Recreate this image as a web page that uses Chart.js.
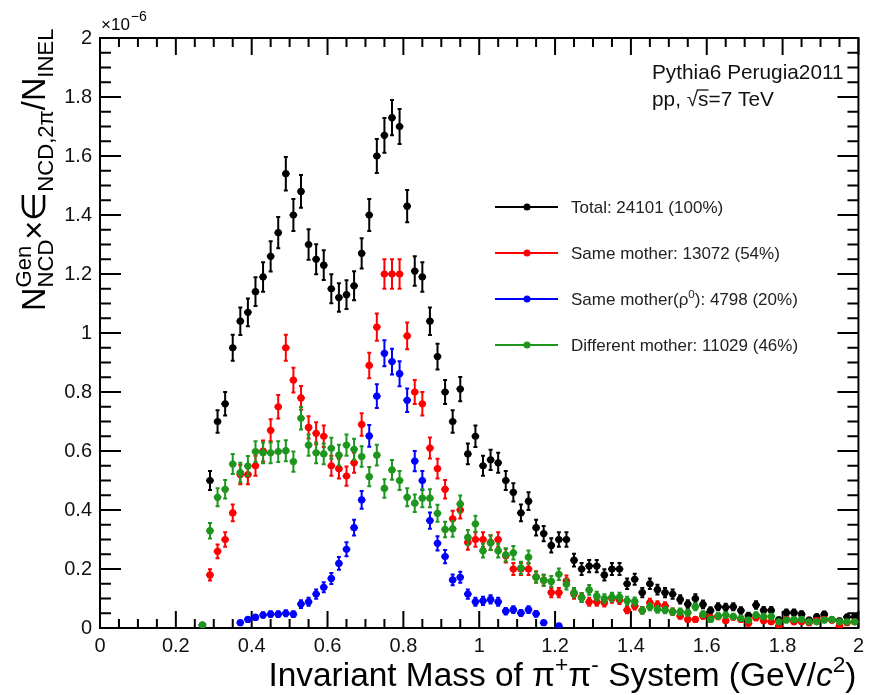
<!DOCTYPE html>
<html>
<head>
<meta charset="utf-8">
<script src="https://cdn.jsdelivr.net/npm/chart.js@4.4.1/dist/chart.umd.min.js"></script>
<style>
    html, body { margin: 0; padding: 0; background: #ffffff; }
    canvas { display: block; }
</style>
</head>
<body>
<canvas id="massPlot" width="870" height="695"></canvas>
<script>
// bin centres in GeV/c^2 (0.02 wide bins)
const mass = [
    0.27, 0.29, 0.31, 0.33, 0.35, 0.37, 0.39, 0.41, 0.43, 0.45,
    0.47, 0.49, 0.51, 0.53, 0.55, 0.57, 0.59, 0.61, 0.63, 0.65,
    0.67, 0.69, 0.71, 0.73, 0.75, 0.77, 0.79, 0.81, 0.83, 0.85,
    0.87, 0.89, 0.91, 0.93, 0.95, 0.97, 0.99, 1.01, 1.03, 1.05,
    1.07, 1.09, 1.11, 1.13, 1.15, 1.17, 1.19, 1.21, 1.23, 1.25,
    1.27, 1.29, 1.31, 1.33, 1.35, 1.37, 1.39, 1.41, 1.43, 1.45,
    1.47, 1.49, 1.51, 1.53, 1.55, 1.57, 1.59, 1.61, 1.63, 1.65,
    1.67, 1.69, 1.71, 1.73, 1.75, 1.77, 1.79, 1.81, 1.83, 1.85,
    1.87, 1.89, 1.91, 1.93, 1.95, 1.97, 1.99
];

// yields in units of 1e-6
const total = [
    0.01, 0.50, 0.70, 0.76, 0.95, 1.04, 1.07, 1.14, 1.19, 1.26,
    1.34, 1.54, 1.40, 1.48, 1.30, 1.25, 1.23, 1.15, 1.12, 1.13,
    1.16, 1.27, 1.40, 1.60, 1.67, 1.73, 1.70, 1.43, 1.21, 1.19,
    1.04, 0.92, 0.80, 0.70, 0.81, 0.59, 0.65, 0.55, 0.57, 0.56,
    0.50, 0.46, 0.39, 0.43, 0.34, 0.32, 0.28, 0.30, 0.30, 0.23,
    0.20, 0.21, 0.21, 0.18, 0.20, 0.20, 0.15, 0.165, 0.12, 0.15,
    0.13, 0.12, 0.115, 0.097, 0.081, 0.10, 0.08, 0.059, 0.072, 0.07,
    0.072, 0.059, 0.042, 0.078, 0.06, 0.06, 0.028, 0.052, 0.052, 0.047,
    0.027, 0.038, 0.046, 0.028, 0.024, 0.037, 0.038
];

const sameMother = [
    null, 0.18, 0.26, 0.30, 0.39, 0.52, 0.52, 0.55, 0.60, 0.67,
    0.75, 0.95, 0.84, 0.78, 0.68, 0.66, 0.65, 0.55, 0.54, 0.515,
    0.56, 0.69, 0.89, 1.02, 1.20, 1.20, 1.20, 0.99, 0.80, 0.76,
    0.61, 0.54, 0.47, 0.37, 0.40, 0.29, 0.30, 0.30, 0.29, 0.30,
    0.245, 0.20, 0.20, 0.20, 0.173, 0.162, 0.12, 0.12, 0.16, 0.115,
    0.104, 0.089, 0.089, 0.086, 0.10, 0.095, 0.061, 0.075, 0.06, 0.086,
    0.078, 0.075, 0.055, 0.041, 0.029, 0.029, 0.041, 0.035, 0.039, 0.025,
    0.037, 0.029, 0.016, 0.035, 0.025, 0.021, 0.007, 0.029, 0.021, 0.021,
    0.018, 0.025, 0.029, 0.027, 0.007, 0.018, 0.021
];

const sameMotherRho = [
    null, null, null, null, null, 0.018, 0.029, 0.036, 0.044, 0.047,
    0.047, 0.05, 0.047, 0.081, 0.089, 0.115, 0.138, 0.168, 0.219, 0.267,
    0.34, 0.434, 0.651, 0.786, 0.931, 0.903, 0.862, 0.772, 0.566, 0.50,
    0.364, 0.287, 0.242, 0.163, 0.172, 0.115, 0.089, 0.092, 0.097, 0.089,
    0.057, 0.062, 0.051, 0.062, 0.048, 0.018, null, 0.007, null, null,
    null, null, null, null, null, null, null, null, null, null,
    null, null, null, null, null, null, null, null, null, null,
    null, null, null, null, null, null, null, null, null, null,
    null, null, null, null, null, null, null
];

const differentMother = [
    0.01, 0.33, 0.443, 0.47, 0.556, 0.527, 0.549, 0.598, 0.594, 0.594,
    0.598, 0.601, 0.564, 0.711, 0.62, 0.594, 0.59, 0.609, 0.586, 0.62,
    0.606, 0.581, 0.513, 0.586, 0.473, 0.536, 0.50, 0.443, 0.423, 0.44,
    0.44, 0.389, 0.334, 0.336, 0.42, 0.307, 0.353, 0.262, 0.289, 0.262,
    0.248, 0.255, 0.204, 0.24, 0.172, 0.162, 0.158, 0.182, 0.148, 0.12,
    0.103, 0.129, 0.108, 0.10, 0.105, 0.105, 0.092, 0.09, 0.059, 0.072,
    0.063, 0.061, 0.055, 0.055, 0.052, 0.072, 0.047, 0.029, 0.041, 0.044,
    0.039, 0.033, 0.027, 0.044, 0.039, 0.039, 0.021, 0.027, 0.029, 0.029,
    0.021, 0.021, 0.027, 0.029, 0.021, 0.021, 0.021
];

const legendLabels = [
    [{ t: "Total: 24101 (100%)" }],
    [{ t: "Same mother: 13072 (54%)" }],
    [{ t: "Same mother(\u03c1" }, { t: "0", sup: true }, { t: "): 4798 (20%)" }],
    [{ t: "Different mother: 11029 (46%)" }]
];
const seriesColours = ["#000000", "#ff0000", "#0000ff", "#1e961e"];
const totalPairs = 24101;
const xTicks = [0, 0.2, 0.4, 0.6, 0.8, 1, 1.2, 1.4, 1.6, 1.8, 2];
const yTicks = [0, 0.2, 0.4, 0.6, 0.8, 1, 1.2, 1.4, 1.6, 1.8, 2];

const FONT = "'Liberation Sans', Arial, Helvetica, sans-serif";
const binHalf = 0.01;

// yield carried by one pair, used for the statistical (sqrt N) error bars
const yieldPerPair = total.reduce((s, v) => s + v, 0) / totalPairs;

const toPoints = (values) =>
    mass.map((m, i) => (values[i] == null ? null : { x: m, y: values[i] })).filter(Boolean);

Chart.defaults.font.family = FONT;
Chart.defaults.color = "#000000";

// text made of pieces: normal, superscript and subscript
function drawRuns(c, runs, x, y, size) {
    let cx = x;
    runs.forEach((r) => {
        const s = r.sup || r.sub ? size * 0.68 : size;
        c.font = `${r.italic ? "italic " : ""}${s}px ${FONT}`;
        const dy = r.sup ? -size * 0.42 : r.sub ? size * 0.25 : 0;
        c.fillText(r.t, cx, y + dy);
        if (!r.stack) cx += c.measureText(r.t).width;
    });
    return cx - x;
}

function runsWidth(c, runs, size) {
    let w = 0;
    runs.forEach((r) => {
        const s = r.sup || r.sub ? size * 0.68 : size;
        c.font = `${r.italic ? "italic " : ""}${s}px ${FONT}`;
        if (!r.stack) w += c.measureText(r.t).width;
    });
    return w;
}

// frame and inward tick marks around the plot area
const frameTicks = {
    id: "frameTicks",
    beforeDatasetsDraw(chart) {
        const { ctx: c, chartArea: a, scales } = chart;
        c.save();
        c.strokeStyle = "#000000";
        c.lineWidth = 2;
        c.strokeRect(a.left, a.top, a.right - a.left, a.bottom - a.top);

        c.beginPath();
        for (let i = 0; i <= 40; i++) {
            const px = scales.x.getPixelForValue(i * 0.05);
            const len = i % 4 === 0 ? 17 : 9;
            c.moveTo(px, a.bottom); c.lineTo(px, a.bottom - len);
            c.moveTo(px, a.top); c.lineTo(px, a.top + len);
        }
        for (let i = 0; i <= 40; i++) {
            const py = scales.y.getPixelForValue(i * 0.05);
            const len = i % 4 === 0 ? 21 : 11;
            c.moveTo(a.left, py); c.lineTo(a.left + len, py);
            c.moveTo(a.right, py); c.lineTo(a.right - len, py);
        }
        c.stroke();
        c.restore();
    }
};

// vertical (statistical) and horizontal (bin width) error bars
const errorBars = {
    id: "errorBars",
    beforeDatasetDraw(chart, args) {
        const ds = chart.data.datasets[args.index];
        const { x, y } = chart.scales;
        const c = chart.ctx;
        c.save();
        c.strokeStyle = ds.backgroundColor;
        c.lineWidth = 2;
        c.beginPath();
        ds.data.forEach((p) => {
            const err = Math.sqrt(p.y * yieldPerPair);
            const px = x.getPixelForValue(p.x);
            const py = y.getPixelForValue(p.y);
            const lo = y.getPixelForValue(Math.max(p.y - err, 0));
            const hi = y.getPixelForValue(p.y + err);
            c.moveTo(px, lo); c.lineTo(px, hi);
            c.moveTo(px - 2, lo); c.lineTo(px + 2, lo);
            c.moveTo(px - 2, hi); c.lineTo(px + 2, hi);
            c.moveTo(x.getPixelForValue(p.x - binHalf), py);
            c.lineTo(x.getPixelForValue(p.x + binHalf), py);
        });
        c.stroke();
        c.restore();
    }
};

// axis titles, exponent, generator text and legend
const annotations = {
    id: "annotations",
    afterDraw(chart) {
        const c = chart.ctx;
        const a = chart.chartArea;
        c.save();
        c.fillStyle = "#000000";
        c.textBaseline = "alphabetic";
        c.textAlign = "left";

        // exponent of the y axis
        c.font = `17px ${FONT}`;
        c.fillText("\u00d710", a.left + 1, a.top - 8);
        const ew = c.measureText("\u00d710").width;
        c.font = `14px ${FONT}`;
        c.fillText("\u22126", a.left + 2 + ew, a.top - 17);

        // x axis title, right aligned to the frame
        const xTitle = [
            { t: "Invariant Mass of \u03c0" }, { t: "+", sup: true },
            { t: "\u03c0" }, { t: "-", sup: true },
            { t: " System (GeV/" }, { t: "c", italic: true }, { t: "2", sup: true }, { t: ")" }
        ];
        const xSize = 33.4;
        drawRuns(c, xTitle, a.right - 2 - runsWidth(c, xTitle, xSize), 686, xSize);

        // y axis title, rotated
        c.save();
        c.translate(45, 311);
        c.rotate(-Math.PI / 2);
        drawRuns(c, [
            { t: "N" }, { t: "Gen", sup: true, stack: true }, { t: "NCD", sub: true },
            { t: "\u00d7\u2208" }, { t: "NCD,2\u03c0", sub: true },
            { t: "/N" }, { t: "INEL", sub: true }
        ], 0, 0, 32.5);
        c.restore();

        // generator and collision system
        c.fillStyle = "#111111";
        c.font = `20.8px ${FONT}`;
        c.fillText("Pythia6 Perugia2011", 652, 79);
        const w1 = drawRuns(c, [{ t: "pp, \u221a" }], 652, 106, 20.8);
        c.font = `20.8px ${FONT}`;
        const sw = c.measureText("s").width;
        c.fillText("s=7 TeV", 652 + w1, 106);
        c.lineWidth = 1.3;
        c.strokeStyle = "#111111";
        c.beginPath();
        c.moveTo(652 + w1 - 1, 90);
        c.lineTo(652 + w1 + sw, 90);
        c.stroke();

        // legend
        legendLabels.forEach((label, i) => {
            const ly = 207 + i * 46;
            c.strokeStyle = seriesColours[i];
            c.fillStyle = seriesColours[i];
            c.lineWidth = 2;
            c.beginPath();
            c.moveTo(495, ly); c.lineTo(558, ly);
            c.stroke();
            c.beginPath();
            c.arc(527, ly, 3.5, 0, Math.PI * 2);
            c.fill();
            c.fillStyle = "#222222";
            drawRuns(c, label, 571, ly + 6, 17);
        });
        c.restore();
    }
};

const seriesValues = [total, sameMother, sameMotherRho, differentMother];

new Chart(document.getElementById("massPlot"), {
    type: "scatter",
    data: {
        datasets: seriesValues.map((values, i) => ({
            label: legendLabels[i].map((r) => r.t).join(""),
            data: toPoints(values),
            backgroundColor: seriesColours[i],
            borderColor: seriesColours[i],
            borderWidth: 0,
            pointRadius: 3.6,
            pointHoverRadius: 3.6,
            showLine: false,
            // later series are painted on top
            order: seriesValues.length - i
        }))
    },
    options: {
        responsive: false,
        animation: false,
        layout: { padding: { left: 0, right: 8, top: 38, bottom: 0 } },
        scales: {
            x: {
                type: "linear",
                min: 0,
                max: 2,
                afterFit: (scale) => { scale.height = 67; },
                afterBuildTicks: (scale) => { scale.ticks = xTicks.map((v) => ({ value: v })); },
                ticks: {
                    autoSkip: false,
                    maxRotation: 0,
                    padding: 6,
                    color: "#111111",
                    font: { size: 20 },
                    callback: (v) => String(Math.round(v * 10) / 10)
                },
                grid: { display: false, drawTicks: false },
                border: { display: false }
            },
            y: {
                type: "linear",
                min: 0,
                max: 2,
                afterFit: (scale) => { scale.width = 100; },
                afterBuildTicks: (scale) => { scale.ticks = yTicks.map((v) => ({ value: v })); },
                ticks: {
                    autoSkip: false,
                    padding: 8,
                    color: "#111111",
                    font: { size: 20 },
                    callback: (v) => String(Math.round(v * 10) / 10)
                },
                grid: { display: false, drawTicks: false },
                border: { display: false }
            }
        },
        plugins: {
            legend: { display: false },
            tooltip: { enabled: false }
        }
    },
    plugins: [frameTicks, errorBars, annotations]
});
</script>
</body>
</html>
